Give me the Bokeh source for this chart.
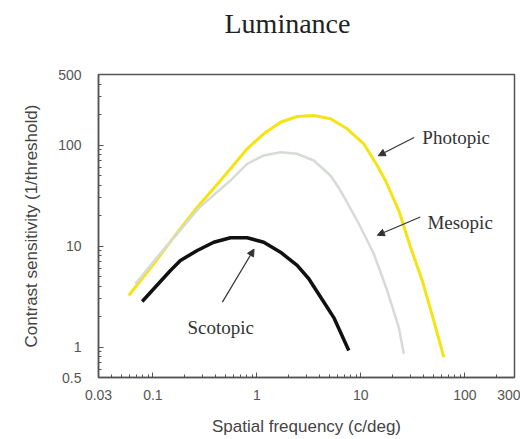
from bokeh.plotting import figure
from bokeh.models import FixedTicker, Label, Arrow, NormalHead, Range1d, Title
from bokeh.embed import file_html
from bokeh.resources import INLINE

# ---- data ----
photopic_f = [0.0587, 0.102, 0.159, 0.267, 0.447, 0.557, 0.807, 1.165, 1.687, 2.44, 3.525, 5.10,
              7.38, 10.66, 14.35, 17.24, 23.14, 30.0, 38.9, 50.2, 62.7]
photopic_s = [3.24, 6.68, 12.25, 24.3, 44.6, 58.3, 91.9, 129.4, 168.5, 192.0, 196.4, 182.1,
              145.0, 103.0, 62.8, 44.6, 22.5, 9.75, 4.57, 1.83, 0.794]

mesopic_f = [0.068, 0.110, 0.171, 0.2745, 0.557, 0.807, 1.165, 1.687, 2.44, 3.525, 5.10, 6.37,
             9.21, 13.31, 17.9, 23.14, 25.85]
mesopic_s = [4.23, 7.77, 13.2, 23.6, 44.6, 65.3, 78.9, 85.1, 82.0, 70.4, 50.0, 35.5,
             17.9, 8.39, 3.63, 1.57, 0.858]

scotopic_f = [0.0789, 0.1476, 0.184, 0.267, 0.385, 0.557, 0.807, 1.165, 1.687, 2.44, 3.155, 4.74,
              5.49, 7.65]
scotopic_s = [2.83, 5.73, 7.20, 9.05, 10.93, 12.08, 12.08, 10.93, 8.70, 6.43, 4.75, 2.48,
              1.96, 0.925]

x_ticks = [0.03, 0.1, 1, 10, 100, 300]
x_tick_labels = ["0.03", "0.1", "1", "10", "100", "300"]
y_ticks = [0.5, 1, 10, 100, 500]
y_tick_labels = ["0.5", "1", "10", "100", "500"]

x_minor = [m * d for d in [0.01, 0.1, 1, 10, 100] for m in range(2, 10) if 0.03 <= m * d <= 300]
y_minor = [m * d for d in [0.1, 1, 10, 100] for m in range(2, 10) if 0.5 <= m * d <= 500]

p = figure(width=520, height=439, x_axis_type="log", y_axis_type="log",
           x_range=Range1d(0.03, 300), y_range=Range1d(0.5, 500),
           output_backend="svg", toolbar_location=None,
           min_border_left=98, min_border_right=6, min_border_top=74, min_border_bottom=62)

p.background_fill_color = "white"
p.border_fill_color = "white"
p.outline_line_color = "#555555"
p.outline_line_width = 1.5
p.grid.visible = False

# spacer between the frame and the main title
p.add_layout(Title(text=" ", text_font_size="16px", standoff=12), "above")

p.title.text = "Luminance"
p.title.text_font = "Liberation Serif"
p.title.text_font_size = "28px"
p.title.text_font_style = "normal"
p.title.text_color = "#222222"
p.title.align = "left"
p.title.offset = 126

for ax, ticks, labels, minor in [(p.xaxis[0], x_ticks, x_tick_labels, x_minor),
                                  (p.yaxis[0], y_ticks, y_tick_labels, y_minor)]:
    ax.ticker = FixedTicker(ticks=ticks, minor_ticks=minor)
    ax.major_label_overrides = {t: l for t, l in zip(ticks, labels)}
    ax.major_tick_in = 5
    ax.major_tick_out = 0
    ax.minor_tick_in = 3
    ax.minor_tick_out = 0
    ax.axis_line_color = "#555555"
    ax.axis_line_width = 1.5
    ax.major_tick_line_color = "#555555"
    ax.minor_tick_line_color = "#555555"
    ax.major_label_text_font = "Liberation Sans"
    ax.major_label_text_font_size = "14px"
    ax.major_label_text_color = "#555555"
    ax.axis_label_text_font = "Liberation Sans"
    ax.axis_label_text_font_size = "17px"
    ax.axis_label_text_font_style = "normal"
    ax.axis_label_text_color = "#444444"

p.xaxis.axis_label = "Spatial frequency (c/deg)"
p.yaxis.axis_label = "Contrast sensitivity (1/threshold)"
p.xaxis.major_label_standoff = 12
p.yaxis.major_label_standoff = 17
p.xaxis.axis_label_standoff = 14
p.yaxis.axis_label_standoff = 14

p.line(photopic_f, photopic_s, line_color="#f5e312", line_width=3, line_join="round")
p.line(mesopic_f, mesopic_s, line_color="#d6dbd6", line_width=2.5, line_join="round")
p.line(scotopic_f, scotopic_s, line_color="#111111", line_width=3.5, line_join="round")

ann_font = "Liberation Serif"
for x, y, t in [(39, 120, "Photopic"), (43.6, 17.3, "Mesopic"), (0.215, 1.58, "Scotopic")]:
    p.add_layout(Label(x=x, y=y, text=t, text_font=ann_font, text_font_size="19px",
                       text_baseline="middle", text_align="left", text_color="#333333"))

for xs, ys, xe, ye in [(32.5, 119, 14.7, 78.4), (37.3, 19.4, 14.4, 12.8), (0.466, 2.79, 0.94, 9.34)]:
    p.add_layout(Arrow(end=NormalHead(size=7, fill_color="#333333", line_color="#333333"),
                       x_start=xs, y_start=ys, x_end=xe, y_end=ye,
                       line_color="#333333", line_width=1.2))

open("out.html", "w").write(file_html(p, INLINE))
